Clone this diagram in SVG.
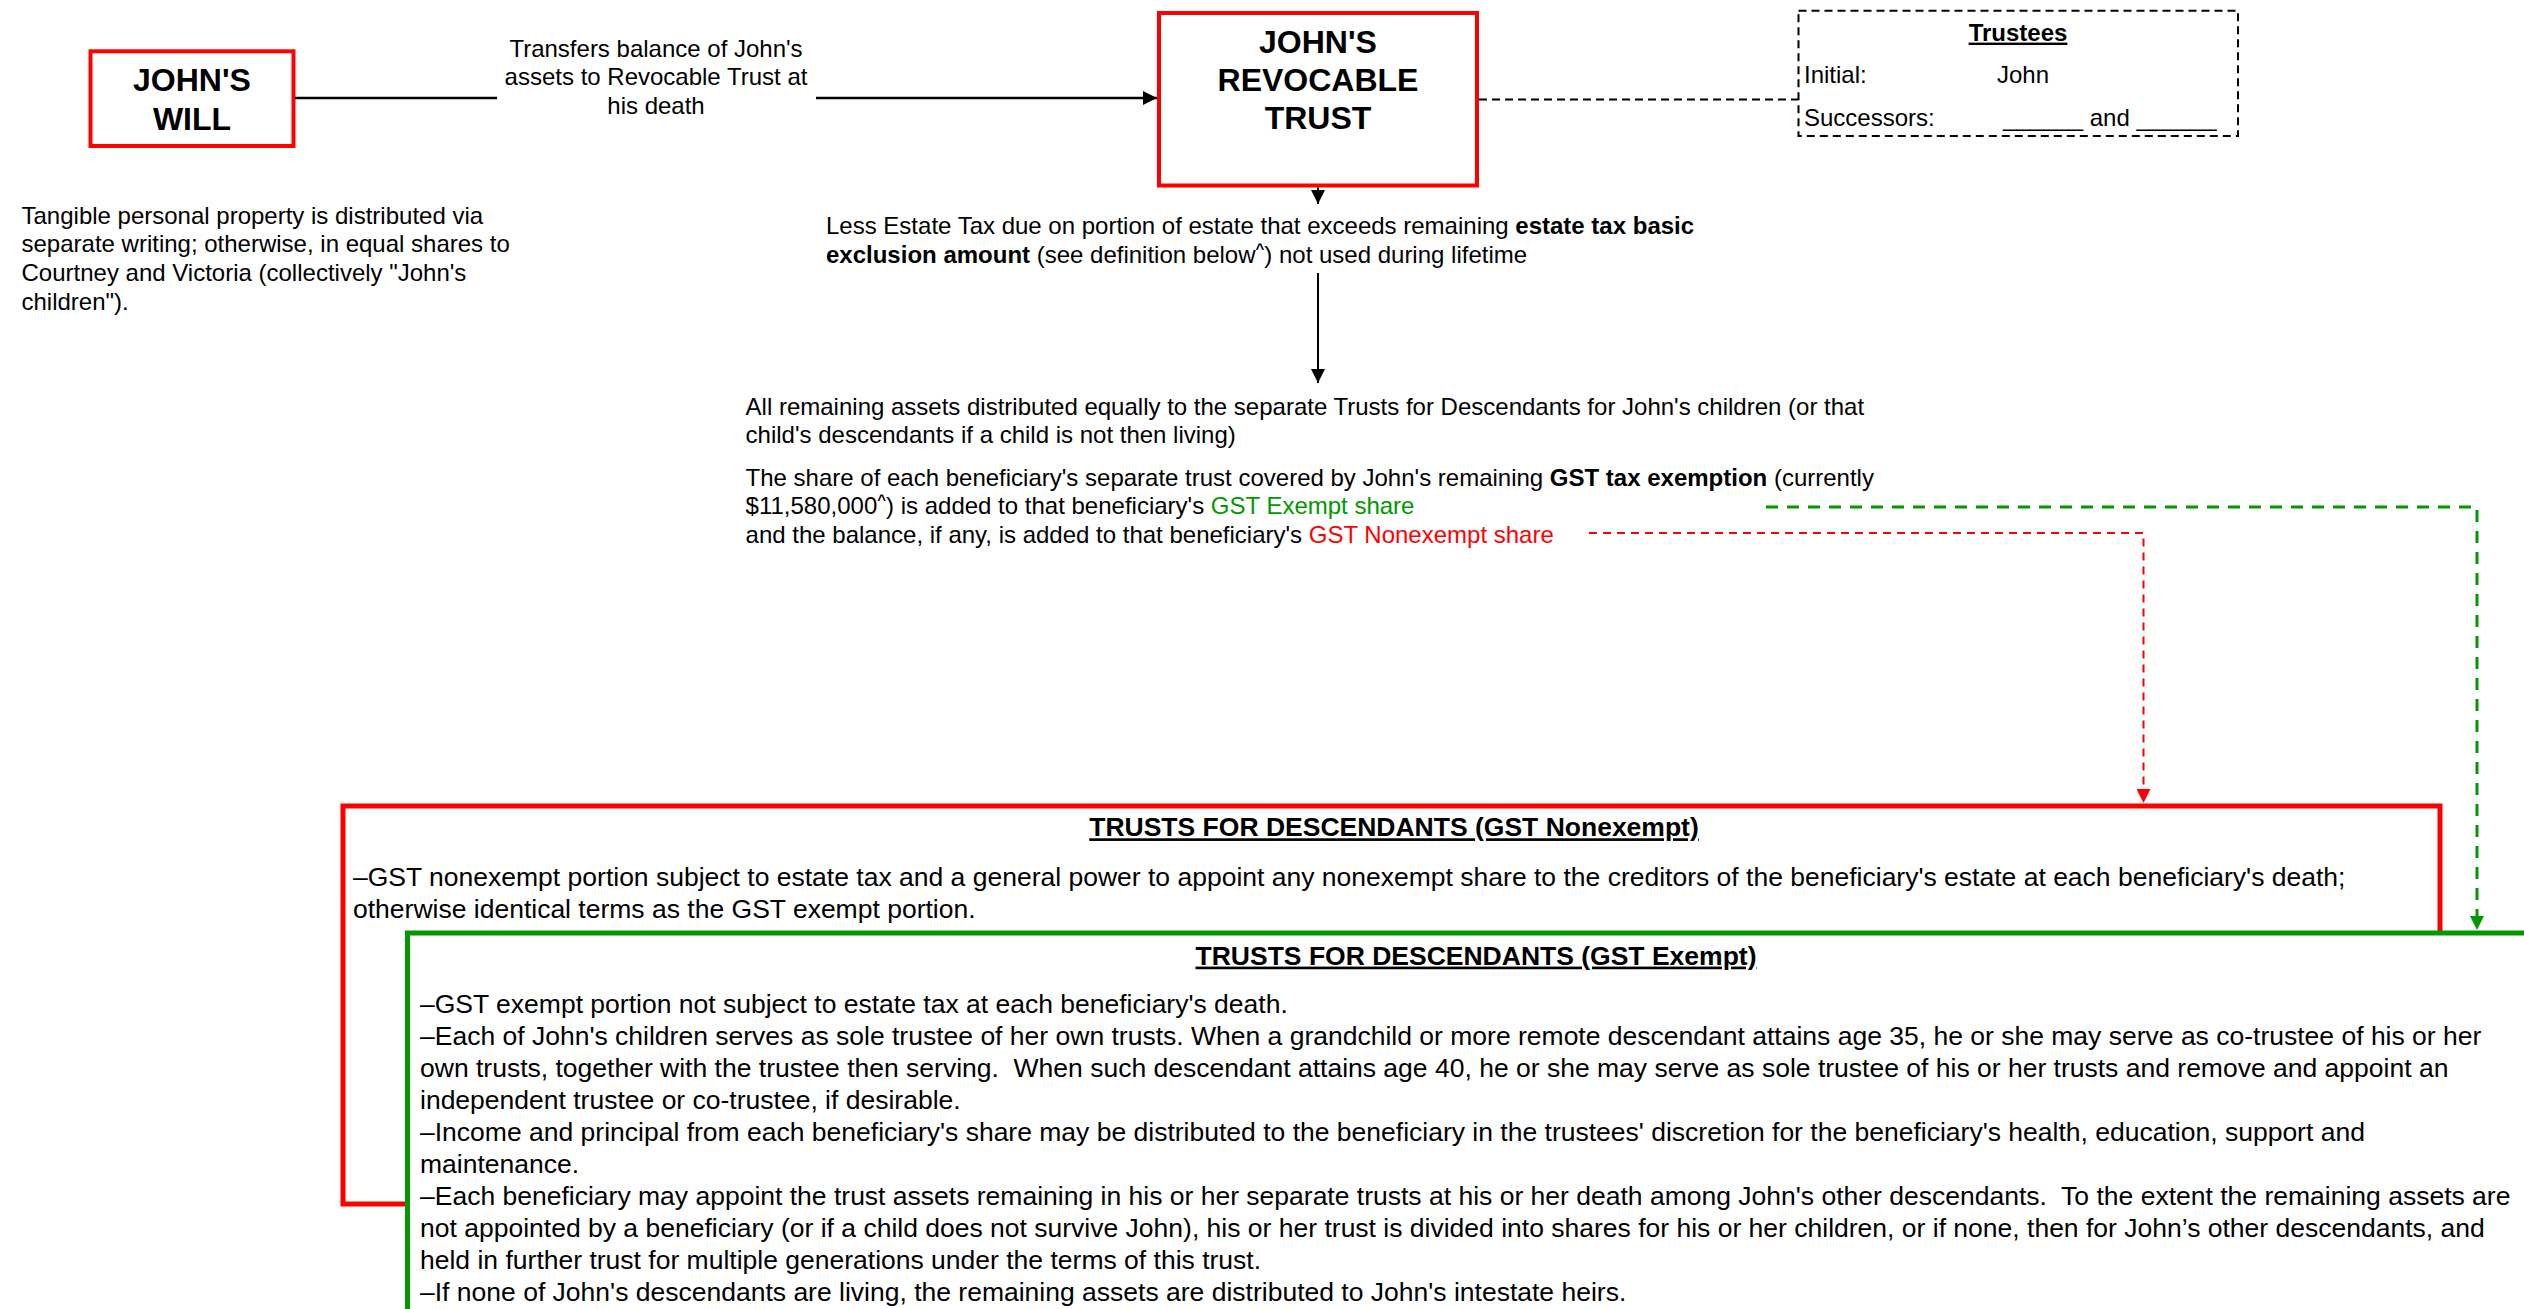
<svg xmlns="http://www.w3.org/2000/svg" width="2524" height="1309" viewBox="0 0 2524 1309">
<defs>
<style>
text{font-family:"Liberation Sans",Arial,Helvetica,sans-serif;fill:#000;white-space:pre}
.big{font-size:32px;font-weight:bold;text-anchor:middle}
.s24{font-size:24px}
.s26{font-size:26.5px}
.b{font-weight:bold}
.u{text-decoration:underline}
.mid{text-anchor:middle}
.redbox{fill:#fff;stroke:#ff0000}
.grn{fill:#009900}
.rd{fill:#ff0000}
.sup{font-size:15px}
</style>
<marker id="ab" markerUnits="userSpaceOnUse" viewBox="0 0 14 14" markerWidth="14" markerHeight="14" refX="14" refY="7" orient="auto"><path d="M0,0 L14,7 L0,14 z" fill="#000"/></marker>
<marker id="ar" markerUnits="userSpaceOnUse" viewBox="0 0 14 14" markerWidth="14" markerHeight="14" refX="14" refY="7" orient="auto"><path d="M0,0 L14,7 L0,14 z" fill="#ff0000"/></marker>
<marker id="ag" markerUnits="userSpaceOnUse" viewBox="0 0 14 14" markerWidth="14" markerHeight="14" refX="14" refY="7" orient="auto"><path d="M0,0 L14,7 L0,14 z" fill="#009900"/></marker>
</defs>
<rect width="2524" height="1309" fill="#fff"/>

<g id="will">
<rect class="redbox" x="90.5" y="51.3" width="203" height="94.7" stroke-width="4"/>
<text class="big" x="192" y="91">JOHN'S</text>
<text class="big" x="192" y="129.5">WILL</text>
</g>

<g id="will-note">
<text class="s24" x="21.5" y="223.6">Tangible personal property is distributed via</text>
<text class="s24" x="21.5" y="252.4">separate writing; otherwise, in equal shares to</text>
<text class="s24" x="21.5" y="281.2">Courtney and Victoria (collectively "John's</text>
<text class="s24" x="21.5" y="310">children").</text>
</g>

<g id="trust">
<rect class="redbox" x="1159" y="13" width="318" height="172.5" stroke-width="4"/>
<text class="big" x="1318" y="52.5">JOHN'S</text>
<text class="big" x="1318" y="91">REVOCABLE</text>
<text class="big" x="1318" y="129.3">TRUST</text>
</g>

<g id="trustees">
<rect x="1798.5" y="10.7" width="439.5" height="125.3" fill="#fff" stroke="#000" stroke-width="2" stroke-dasharray="8 5"/>
<text class="s24 b u mid" x="2018" y="40.6">Trustees</text>
<text class="s24" x="1804" y="82.6">Initial:</text>
<text class="s24" x="1997" y="82.6">John</text>
<text class="s24" x="1804" y="125.6">Successors:</text>
<text class="s24" x="2003" y="125.6">______ and ______</text>
</g>

<g id="estate-tax">
<text class="s24" x="826" y="233.6">Less Estate Tax due on portion of estate that exceeds remaining <tspan class="b">estate tax basic</tspan></text>
<text class="s24" x="826" y="262.6"><tspan class="b">exclusion amount</tspan> (see definition below<tspan class="sup b" dy="-9">^</tspan><tspan dy="9">) not used during lifetime</tspan></text>
</g>

<g id="distribution">
<text class="s24" x="745.6" y="414.6">All remaining assets distributed equally to the separate Trusts for Descendants for John's children (or that</text>
<text class="s24" x="745.6" y="443.4">child's descendants if a child is not then living)</text>
<text class="s24" x="745.6" y="485.6">The share of each beneficiary's separate trust covered by John's remaining <tspan class="b">GST tax exemption</tspan> (currently</text>
<text class="s24" x="745.6" y="514.4">$11,580,000<tspan class="sup b" dy="-9">^</tspan><tspan dy="9">) is added to that beneficiary's </tspan><tspan class="grn">GST Exempt share</tspan></text>
<text class="s24" x="745.6" y="543.2">and the balance, if any, is added to that beneficiary's <tspan class="rd">GST Nonexempt share</tspan></text>
</g>

<g id="nonexempt">
<rect class="redbox" x="343" y="806" width="2097" height="398" stroke-width="5"/>
<text class="s26 b u mid" x="1394" y="836.3">TRUSTS FOR DESCENDANTS (GST Nonexempt)</text>
<text class="s26" x="353" y="886.3">–GST nonexempt portion subject to estate tax and a general power to appoint any nonexempt share to the creditors of the beneficiary's estate at each beneficiary's death;</text>
<text class="s26" x="353" y="918">otherwise identical terms as the GST exempt portion.</text>
</g>

<g id="exempt">
<rect x="407.5" y="933" width="2140" height="420" fill="#fff" stroke="#009900" stroke-width="5"/>
<text class="s26 b u mid" x="1476" y="964.6">TRUSTS FOR DESCENDANTS (GST Exempt)</text>
<text class="s26" x="420" y="1012.6">–GST exempt portion not subject to estate tax at each beneficiary's death.</text>
<text class="s26" x="420" y="1044.6">–Each of John's children serves as sole trustee of her own trusts. When a grandchild or more remote descendant attains age 35, he or she may serve as co-trustee of his or her</text>
<text class="s26" x="420" y="1076.6">own trusts, together with the trustee then serving.  When such descendant attains age 40, he or she may serve as sole trustee of his or her trusts and remove and appoint an</text>
<text class="s26" x="420" y="1108.6">independent trustee or co-trustee, if desirable.</text>
<text class="s26" x="420" y="1140.6">–Income and principal from each beneficiary's share may be distributed to the beneficiary in the trustees' discretion for the beneficiary's health, education, support and</text>
<text class="s26" x="420" y="1172.6">maintenance.</text>
<text class="s26" x="420" y="1204.6">–Each beneficiary may appoint the trust assets remaining in his or her separate trusts at his or her death among John's other descendants.  To the extent the remaining assets are</text>
<text class="s26" x="420" y="1236.6">not appointed by a beneficiary (or if a child does not survive John), his or her trust is divided into shares for his or her children, or if none, then for John’s other descendants, and</text>
<text class="s26" x="420" y="1268.6">held in further trust for multiple generations under the terms of this trust.</text>
<text class="s26" x="420" y="1300.6">–If none of John's descendants are living, the remaining assets are distributed to John's intestate heirs.</text>
</g>

<g id="connectors" fill="none">
<line x1="295" y1="98" x2="497" y2="98" stroke="#000" stroke-width="2.5"/>
<text class="s24 mid" x="656" y="56.6">Transfers balance of John's</text>
<text class="s24 mid" x="656" y="85.4">assets to Revocable Trust at</text>
<text class="s24 mid" x="656" y="114.2">his death</text>
<line x1="816" y1="98" x2="1157" y2="98" stroke="#000" stroke-width="2.5" marker-end="url(#ab)"/>
<line x1="1479" y1="99.5" x2="1798" y2="99.5" stroke="#000" stroke-width="2" stroke-dasharray="8 5"/>
<line x1="1318" y1="187.5" x2="1318" y2="204" stroke="#000" stroke-width="2" marker-end="url(#ab)"/>
<line x1="1318" y1="273" x2="1318" y2="383" stroke="#000" stroke-width="2" marker-end="url(#ab)"/>
<path d="M1589,533 H2143.5 V803" stroke="#ff0000" stroke-width="2" stroke-dasharray="8 6" marker-end="url(#ar)"/>
<path d="M1766,507 H2477 V930" stroke="#009900" stroke-width="3" stroke-dasharray="12 9" marker-end="url(#ag)"/>
</g>
</svg>
